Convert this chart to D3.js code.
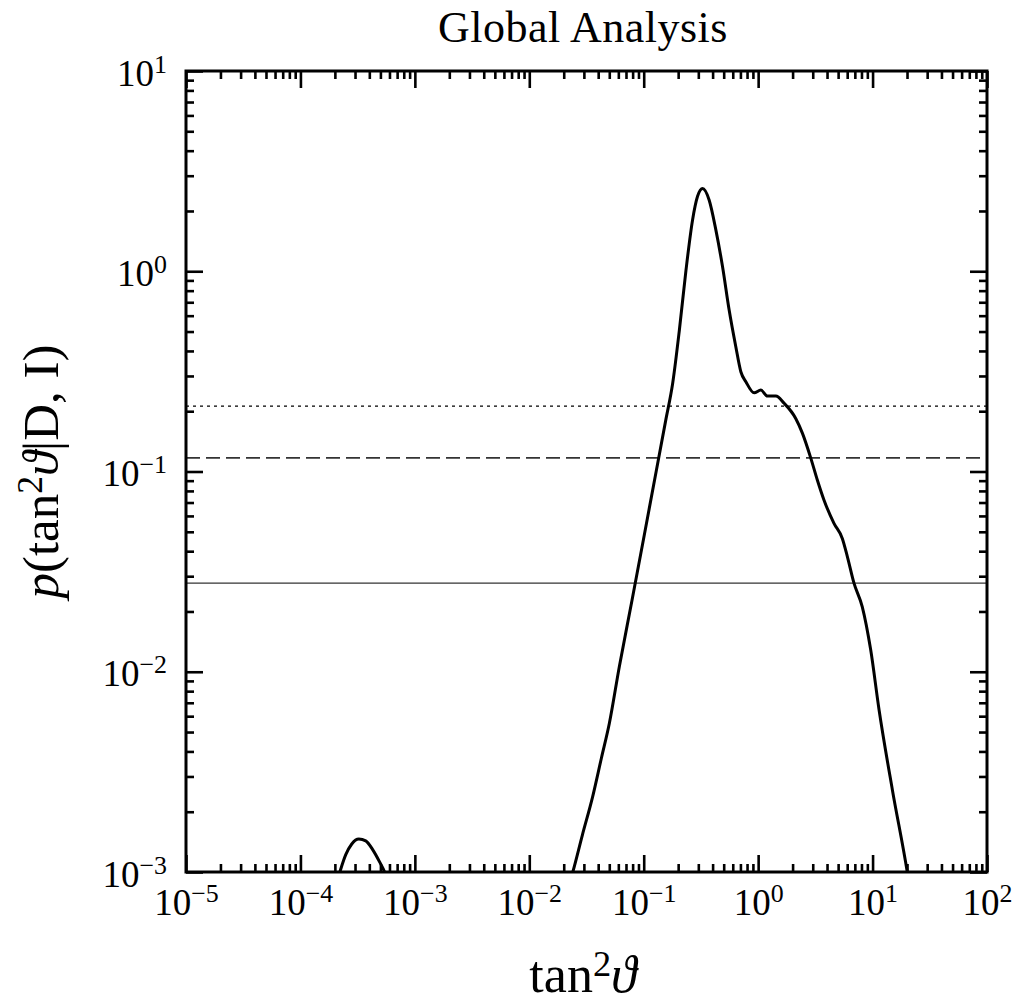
<!DOCTYPE html>
<html>
<head>
<meta charset="utf-8">
<script src="https://cdn.jsdelivr.net/npm/d3@7"></script>
<style>
  body { margin: 0; background: #fff; }
  text { font-family: "Liberation Serif", "DejaVu Serif", serif; fill: #000; }
</style>
</head>
<body>
<div id="chart"></div>
<script>
// small bump near 1e-4 .. 1e-3
const bumpX = [2.04e-4, 2.21e-4, 2.49e-4, 2.81e-4, 3.24e-4, 3.72e-4, 4.29e-4, 4.93e-4, 5.44e-4, 5.90e-4];
const bumpY = [8.6e-4, 1.0e-3, 1.22e-3, 1.38e-3, 1.46e-3, 1.43e-3, 1.29e-3, 1.12e-3, 1.0e-3, 8.6e-4];

// main posterior curve
const mainX = [0.0215, 0.0240, 0.0291, 0.0358, 0.0427, 0.0501, 0.0612, 0.0791, 0.112, 0.156,
               0.179, 0.205, 0.234, 0.267, 0.295, 0.327, 0.373, 0.427, 0.489, 0.558,
               0.638, 0.706, 0.781, 0.923, 1.056, 1.205, 1.428, 1.687, 2.13, 2.44,
               2.88, 3.29, 3.76, 4.60, 5.44, 6.02, 6.88, 8.13, 9.62, 11.4,
               14.9, 20.1, 21.6];
const mainY = [8.1e-4, 1.0e-3, 1.53e-3, 2.38e-3, 3.71e-3, 5.53e-3, 0.0106, 0.0228, 0.0658, 0.181,
               0.275, 0.509, 1.01, 1.80, 2.36, 2.59, 2.27, 1.61, 1.05, 0.640,
               0.420, 0.315, 0.281, 0.247, 0.255, 0.238, 0.238, 0.219, 0.184, 0.155,
               0.117, 0.0907, 0.0721, 0.0551, 0.0463, 0.0376, 0.0277, 0.0211, 0.0129, 6.44e-3,
               2.57e-3, 1.0e-3, 7.7e-4];

// horizontal credibility levels
const levelValues = [0.212, 0.117, 0.0277];
const levelStyles = ["dotted", "dashed", "solid"];

const xDecades = [-5, -4, -3, -2, -1, 0, 1, 2];
const yDecades = [-3, -2, -1, 0, 1];

const width = 1013;
const height = 1003;
const margin = {top: 71, left: 186, right: 26, bottom: 131};

const svg = d3.select("#chart")
    .append("svg")
    .attr("width", width)
    .attr("height", height);

const xScale = d3.scaleLog()
    .domain([1e-5, 1e2])
    .range([margin.left, width - margin.right]);

const yScale = d3.scaleLog()
    .domain([1e-3, 1e1])
    .range([height - margin.bottom, margin.top]);

const majorX = xDecades.map(function(d) { return Math.pow(10, d); });
const majorY = yDecades.map(function(d) { return Math.pow(10, d); });
const minorX = [];
xDecades.slice(0, -1).forEach(function(d) {
    for (let k = 2; k <= 9; k++) minorX.push(k * Math.pow(10, d));
});
const minorY = [];
yDecades.slice(0, -1).forEach(function(d) {
    for (let k = 2; k <= 9; k++) minorY.push(k * Math.pow(10, d));
});

const x0 = margin.left, x1 = width - margin.right;
const y0 = margin.top, y1 = height - margin.bottom;

// Clip
svg.append("clipPath").attr("id", "plotclip")
    .append("rect")
    .attr("x", x0).attr("y", y0)
    .attr("width", x1 - x0).attr("height", y1 - y0);

// Reference lines
const dashFor = {dotted: "3,4", dashed: "14,6", solid: null};
svg.selectAll("line.level")
    .data(levelValues)
    .enter()
    .append("line")
    .attr("class", "level")
    .attr("x1", x0).attr("x2", x1)
    .attr("y1", function(d) { return yScale(d); })
    .attr("y2", function(d) { return yScale(d); })
    .attr("stroke", function(d, i) { return levelStyles[i] == "dotted" ? "#000" : "#333"; })
    .attr("stroke-width", function(d, i) { return levelStyles[i] == "dashed" ? 1.8 : 1.4; })
    .attr("stroke-dasharray", function(d, i) { return dashFor[levelStyles[i]]; });

// Curves
const line = d3.line()
    .x(function(d) { return xScale(d[0]); })
    .y(function(d) { return yScale(d[1]); })
    .curve(d3.curveMonotoneX);

const curves = [d3.zip(bumpX, bumpY), d3.zip(mainX, mainY)];
svg.append("g").attr("clip-path", "url(#plotclip)")
    .selectAll("path")
    .data(curves)
    .enter()
    .append("path")
    .attr("d", line)
    .attr("fill", "none")
    .attr("stroke", "#000")
    .attr("stroke-width", 3)
    .attr("stroke-linejoin", "round");

// Ticks (inward, on all four sides)
function styleTicks(g) {
    g.select(".domain").remove();
    g.selectAll(".tick line").attr("stroke", "#000").attr("stroke-width", 2.6);
}

function supLabel(sel, exp) {
    sel.text(null);
    sel.append("tspan").text("10");
    sel.append("tspan")
        .attr("dy", "-0.5em")
        .attr("font-size", "0.7em")
        .text(exp < 0 ? "\u2212" + (-exp) : exp);
}

// bottom
svg.append("g")
    .attr("transform", `translate(0,${y1})`)
    .call(d3.axisBottom(xScale).tickValues(minorX).tickSize(-8).tickFormat(""))
    .call(styleTicks);
const bottomMajor = svg.append("g")
    .attr("transform", `translate(0,${y1})`)
    .call(d3.axisBottom(xScale).tickValues(majorX).tickSize(-17).tickPadding(0))
    .call(styleTicks);
bottomMajor.selectAll(".tick text")
    .attr("y", 43)
    .attr("dy", null)
    .attr("font-size", 37)
    .attr("text-anchor", "middle")
    .each(function(d, i) { supLabel(d3.select(this), xDecades[i]); });

// top
svg.append("g")
    .attr("transform", `translate(0,${y0})`)
    .call(d3.axisTop(xScale).tickValues(minorX).tickSize(-8).tickFormat(""))
    .call(styleTicks);
svg.append("g")
    .attr("transform", `translate(0,${y0})`)
    .call(d3.axisTop(xScale).tickValues(majorX).tickSize(-17).tickFormat(""))
    .call(styleTicks);

// left
svg.append("g")
    .attr("transform", `translate(${x0},0)`)
    .call(d3.axisLeft(yScale).tickValues(minorY).tickSize(-8).tickFormat(""))
    .call(styleTicks);
const leftMajor = svg.append("g")
    .attr("transform", `translate(${x0},0)`)
    .call(d3.axisLeft(yScale).tickValues(majorY).tickSize(-17).tickPadding(0))
    .call(styleTicks);
leftMajor.selectAll(".tick text")
    .attr("x", -19)
    .attr("dy", null)
    .attr("y", 14)
    .attr("font-size", 37)
    .attr("text-anchor", "end")
    .each(function(d, i) { supLabel(d3.select(this), yDecades[i]); });

// right
svg.append("g")
    .attr("transform", `translate(${x1},0)`)
    .call(d3.axisRight(yScale).tickValues(minorY).tickSize(-8).tickFormat(""))
    .call(styleTicks);
svg.append("g")
    .attr("transform", `translate(${x1},0)`)
    .call(d3.axisRight(yScale).tickValues(majorY).tickSize(-17).tickFormat(""))
    .call(styleTicks);

// Frame
svg.append("rect")
    .attr("x", x0).attr("y", y0)
    .attr("width", x1 - x0).attr("height", y1 - y0)
    .attr("fill", "none")
    .attr("stroke", "#000")
    .attr("stroke-width", 3);

// Title
svg.append("text")
    .attr("x", 583)
    .attr("y", 42)
    .attr("text-anchor", "middle")
    .attr("font-size", 44)
    .attr("letter-spacing", 0.5)
    .text("Global Analysis");

// X label
const xLabel = svg.append("text")
    .attr("x", 583)
    .attr("y", 992)
    .attr("text-anchor", "middle")
    .attr("font-size", 52);
xLabel.append("tspan").text("tan");
xLabel.append("tspan").attr("dy", "-0.45em").attr("font-size", "0.7em").text("2");
xLabel.append("tspan").attr("dy", "0.315em").attr("font-style", "italic").text("\u03D1");

// Y label
const yLabel = svg.append("text")
    .attr("transform", `translate(58,${(y0 + y1) / 2}) rotate(-90)`)
    .attr("text-anchor", "middle")
    .attr("font-size", 51);
yLabel.append("tspan").attr("font-style", "italic").text("p");
yLabel.append("tspan").text("(tan");
yLabel.append("tspan").attr("dy", "-0.45em").attr("font-size", "0.7em").text("2");
yLabel.append("tspan").attr("dy", "0.315em").attr("font-style", "italic").text("\u03D1");
yLabel.append("tspan").text("|D, I)");
</script>
</body>
</html>
